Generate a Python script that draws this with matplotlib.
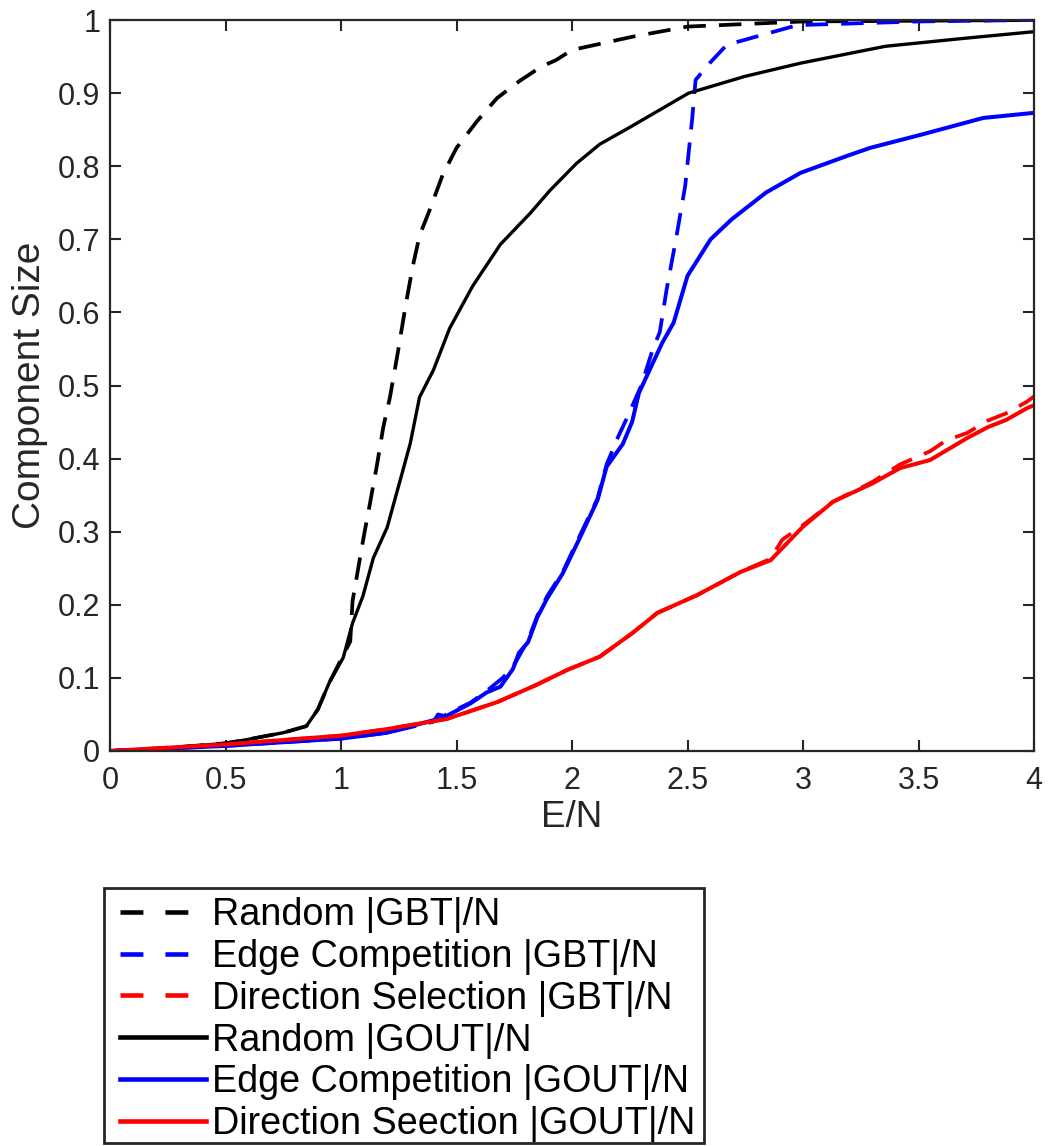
import matplotlib
matplotlib.use("Agg")
import matplotlib.pyplot as plt
from matplotlib.patches import Rectangle

plt.rcParams['font.family'] = ['Liberation Sans', 'DejaVu Sans']

# Random |GBT|/N  (black dashed)
rand_gbt_x = [0, 0.25, 0.5, 0.6, 0.75, 0.85, 0.9, 0.95, 1.0, 1.04, 1.05, 1.08, 1.10,
              1.125, 1.155, 1.183, 1.212, 1.247, 1.28, 1.31, 1.34, 1.385, 1.44, 1.50,
              1.59, 1.675, 1.775, 1.866, 1.93, 2.0, 2.26, 2.5, 3.0, 3.5, 4.0]
rand_gbt_y = [0, 0.004, 0.0105, 0.016, 0.025, 0.034, 0.057, 0.094, 0.125, 0.15, 0.205,
              0.26, 0.296, 0.338, 0.39, 0.443, 0.484, 0.547, 0.61, 0.662, 0.705, 0.741,
              0.788, 0.825, 0.862, 0.893, 0.917, 0.936, 0.945, 0.959, 0.977, 0.991,
              0.998, 0.999, 1.0]

# Edge Competition |GBT|/N  (blue dashed)
edge_gbt_x = [0, 0.5, 1.0, 1.2, 1.40, 1.42, 1.445, 1.52, 1.56, 1.63, 1.70, 1.744, 1.78,
              1.81, 1.85, 1.893, 1.96, 2.03, 2.11, 2.15, 2.20, 2.24, 2.30, 2.35, 2.38,
              2.41, 2.45, 2.49, 2.52, 2.535, 2.596, 2.67, 2.976, 3.5, 4.0]
edge_gbt_y = [0, 0.007, 0.017, 0.025, 0.040, 0.050, 0.048, 0.060, 0.066, 0.082, 0.100,
              0.115, 0.135, 0.152, 0.185, 0.212, 0.245, 0.292, 0.345, 0.392, 0.430,
              0.457, 0.50, 0.55, 0.573, 0.632, 0.70, 0.773, 0.864, 0.918, 0.941, 0.966,
              0.993, 0.998, 1.0]

# Direction Selection |GBT|/N  (red dashed)
dir_gbt_x = [0, 0.5, 1.0, 1.2, 1.46, 1.677, 1.843, 1.98, 2.12, 2.26, 2.37, 2.54, 2.73,
             2.86, 2.91, 3.0, 3.13, 3.30, 3.42, 3.55, 3.62, 3.71, 3.80, 3.88, 3.97, 4.0]
dir_gbt_y = [0, 0.009, 0.021, 0.03, 0.044, 0.067, 0.09, 0.111, 0.129, 0.161, 0.189,
             0.213, 0.245, 0.263, 0.289, 0.309, 0.341, 0.368, 0.392, 0.410, 0.425,
             0.435, 0.452, 0.462, 0.478, 0.485]

# Random |GOUT|/N  (black solid)
rand_gout_x = [0, 0.25, 0.5, 0.6, 0.75, 0.85, 0.9, 0.95, 1.01, 1.05, 1.095, 1.14, 1.20,
               1.255, 1.30, 1.34, 1.40, 1.47, 1.57, 1.69, 1.82, 1.905, 2.02, 2.12, 2.26,
               2.505, 2.75, 2.99, 3.356, 3.7, 4.0]
rand_gout_y = [0, 0.004, 0.0105, 0.016, 0.025, 0.034, 0.057, 0.094, 0.128, 0.175, 0.212,
               0.264, 0.306, 0.369, 0.421, 0.484, 0.521, 0.578, 0.636, 0.693, 0.736,
               0.767, 0.804, 0.83, 0.855, 0.90, 0.923, 0.941, 0.964, 0.975, 0.984]

# Edge Competition |GOUT|/N  (blue solid)
edge_gout_x = [0, 0.5, 1.0, 1.2, 1.445, 1.56, 1.63, 1.69, 1.744, 1.77, 1.81, 1.85, 1.893,
               1.96, 2.03, 2.11, 2.15, 2.22, 2.26, 2.29, 2.39, 2.44, 2.50, 2.60, 2.69,
               2.84, 2.99, 3.19, 3.29, 3.51, 3.78, 4.0]
edge_gout_y = [0, 0.007, 0.017, 0.025, 0.046, 0.065, 0.08, 0.088, 0.112, 0.134, 0.149,
               0.183, 0.209, 0.243, 0.289, 0.343, 0.389, 0.42, 0.45, 0.49, 0.558, 0.586,
               0.65, 0.70, 0.727, 0.764, 0.791, 0.814, 0.825, 0.843, 0.866, 0.873]

# Direction Seection |GOUT|/N  (red solid)
dir_gout_x = [0, 0.5, 1.0, 1.2, 1.46, 1.677, 1.843, 1.98, 2.12, 2.26, 2.37, 2.54, 2.73,
              2.86, 3.0, 3.13, 3.30, 3.42, 3.55, 3.71, 3.80, 3.88, 3.97, 4.0]
dir_gout_y = [0, 0.009, 0.021, 0.03, 0.044, 0.067, 0.09, 0.111, 0.129, 0.161, 0.189,
              0.213, 0.245, 0.261, 0.307, 0.341, 0.366, 0.387, 0.398, 0.428, 0.443,
              0.453, 0.469, 0.473]

labels = ["Random |GBT|/N", "Edge Competition |GBT|/N", "Direction Selection |GBT|/N",
          "Random |GOUT|/N", "Edge Competition |GOUT|/N", "Direction Seection |GOUT|/N"]

x_ticks = [0, 0.5, 1, 1.5, 2, 2.5, 3, 3.5, 4]
x_ticklabels = ["0", "0.5", "1", "1.5", "2", "2.5", "3", "3.5", "4"]
y_ticks = [0, 0.1, 0.2, 0.3, 0.4, 0.5, 0.6, 0.7, 0.8, 0.9, 1]
y_ticklabels = ["0", "0.1", "0.2", "0.3", "0.4", "0.5", "0.6", "0.7", "0.8", "0.9", "1"]

grey = '#262626'
W, H = 1051, 1146

fig = plt.figure(figsize=(W / 100, H / 100), dpi=100)
ax = fig.add_axes([110 / W, 1 - 751 / H, 924 / W, 731 / H])

dash = (6, 3.5)
ax.plot(rand_gbt_x, rand_gbt_y, color='black', lw=2.7, dashes=dash, label=labels[0])
ax.plot(edge_gbt_x, edge_gbt_y, color='blue', lw=2.7, dashes=dash, label=labels[1])
ax.plot(dir_gbt_x, dir_gbt_y, color='red', lw=2.7, dashes=dash, label=labels[2])
ax.plot(rand_gout_x, rand_gout_y, color='black', lw=2.4, label=labels[3])
ax.plot(edge_gout_x, edge_gout_y, color='blue', lw=2.9, label=labels[4])
ax.plot(dir_gout_x, dir_gout_y, color='red', lw=2.9, label=labels[5])

ax.set_xlim(0, 4)
ax.set_ylim(0, 1)
ax.set_xticks(x_ticks)
ax.set_xticklabels(x_ticklabels)
ax.set_yticks(y_ticks)
ax.set_yticklabels(y_ticklabels)
ax.tick_params(direction='in', length=8, width=1.5, top=True, right=True,
               labelsize=22, colors=grey)
ax.tick_params(axis='x', pad=11)
ax.tick_params(axis='y', pad=7)
for s in ax.spines.values():
    s.set_linewidth(1.6)
    s.set_color(grey)

ax.set_xlabel("E/N", fontsize=26.5, color=grey, labelpad=3)
ax.set_ylabel("Component Size", fontsize=28, color=grey, labelpad=7)

# legend entries without frame, box drawn separately (MATLAB-style padding)
leg = fig.legend(loc='upper left', bbox_to_anchor=(120 / W, 1 - 897 / H),
                 bbox_transform=fig.transFigure, fontsize=27.2, frameon=False,
                 handlelength=2.28, handletextpad=0.15,
                 labelspacing=0.155, borderpad=0, borderaxespad=0)
for i, ln in enumerate(leg.get_lines()):
    ln.set_linewidth(3.3)
    if i < 3:
        ln.set_dashes((5, 4.8))
fig.patches.append(Rectangle((104 / W, 1 - 1143 / H), 600 / W, 255 / H,
                             transform=fig.transFigure, fill=False,
                             edgecolor=grey, linewidth=2))

fig.savefig("out.png", dpi=100)
